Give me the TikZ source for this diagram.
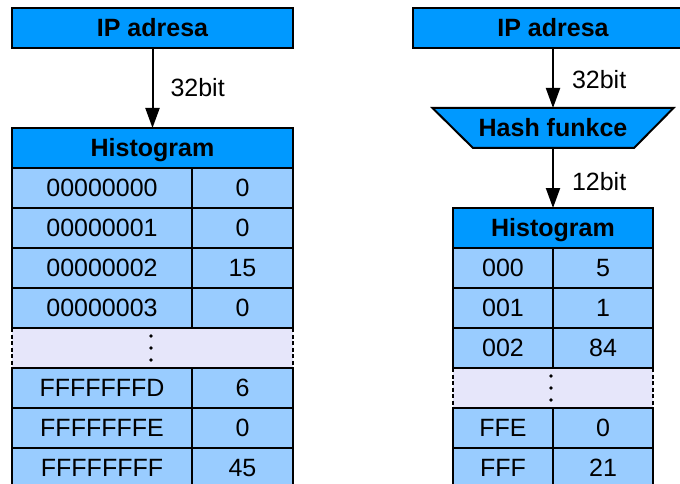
\documentclass[tikz,border=0pt]{standalone}
\usepackage{fontspec}
\setmainfont{Liberation Sans}
\usetikzlibrary{arrows.meta}
\definecolor{hdr}{RGB}{0,153,255}
\definecolor{cellc}{RGB}{153,204,255}
\definecolor{gapc}{RGB}{230,230,250}
\tikzset{
  base/.style={draw, line width=2pt, inner sep=0pt, outer sep=0pt, minimum height=40pt,
    font=\fontsize{25}{28}\selectfont, text height=17.9pt, text depth=0pt, anchor=center},
  headbox/.style={base, fill=hdr, font=\fontsize{25}{28}\selectfont\bfseries},
  cellbox/.style={base, fill=cellc},
  gaprow/.style={inner sep=0pt, outer sep=0pt, minimum height=40pt, fill=gapc},
  gapedge/.style={line width=2pt, dash pattern=on 4pt off 2.5pt},
  arr/.style={line width=2pt, -{Triangle[length=20pt,width=14pt]}},
  lbl/.style={inner sep=0pt, font=\fontsize{25}{28}\selectfont, text height=17.9pt, text depth=0pt},
  hashtext/.style={inner sep=0pt, outer sep=0pt, minimum height=40pt, minimum width=241pt,
    font=\fontsize{25}{28}\selectfont\bfseries, text height=17.9pt, text depth=0pt},
  hashshape/.style={draw, line width=2pt, fill=hdr, line join=miter}
}
\begin{document}
\begin{tikzpicture}[x=1pt,y=-1pt]
\useasboundingbox (0,0) rectangle (680,484);
\clip (0,0) rectangle (680,484);
\fill[white] (0,0) rectangle (680,484);

% ---------- left ----------
\node[headbox, minimum width=281pt] (ipL) at (152.5,28) {IP adresa};
\node[headbox, minimum width=281pt] (histL) at (152.5,148) {Histogram};
\draw[arr] (ipL) -- node[lbl, right=17pt] {32bit} (histL);

\node[gaprow, minimum width=281pt] (gapL) at (152.5,348) {};
\draw[gapedge] (gapL.north west) -- (gapL.south west);
\draw[gapedge] (gapL.north east) -- (gapL.south east);
\fill (151,336) circle (1.8) (151,348) circle (1.8) (151,360) circle (1.8);

\foreach \k/\v/\y [count=\i] in {00000000/0/188, 00000001/0/228, 00000002/15/268, 00000003/0/308,
    FFFFFFFD/6/388, FFFFFFFE/0/428, FFFFFFFF/45/468} {
  \node[cellbox, minimum width=180pt] (kL\i) at (102,\y) {\k};
  \node[cellbox, minimum width=101pt] (vL\i) at (242.5,\y) {\v};
}

% ---------- right ----------
\node[headbox, minimum width=281pt] (ipR) at (553,28) {IP adresa};
\path[hashshape] (432.5,108) -- (673.5,108) -- (634,148) -- (473,148) -- cycle;
\node[hashtext] (hash) at (553,128) {Hash funkce};
\node[headbox, minimum width=200pt] (histR) at (553,228) {Histogram};
\draw[arr] (ipR) -- node[lbl, right=18pt, yshift=-2pt] {32bit} (hash);
\draw[arr] (hash) -- node[lbl, right=18pt, yshift=-4pt] {12bit} (histR);

\node[gaprow, minimum width=200pt] (gapR) at (553,388) {};
\draw[gapedge] (gapR.north west) -- (gapR.south west);
\draw[gapedge] (gapR.north east) -- (gapR.south east);
\fill (551,376) circle (1.8) (551,388) circle (1.8) (551,400) circle (1.8);

\foreach \k/\v/\y [count=\i] in {000/5/268, 001/1/308, 002/84/348, FFE/0/428, FFF/21/468} {
  \node[cellbox, minimum width=100pt] (kR\i) at (503,\y) {\k};
  \node[cellbox, minimum width=100pt] (vR\i) at (603,\y) {\v};
}
\end{tikzpicture}
\end{document}
